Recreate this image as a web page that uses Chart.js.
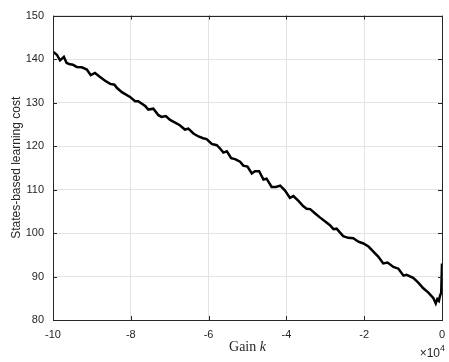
<!DOCTYPE html>
<html>
<head>
<meta charset="utf-8">
<script src="https://cdn.jsdelivr.net/npm/chart.js@4"></script>
<style>
  html, body { margin: 0; padding: 0; background: #fff; }
  canvas { display: block; }
</style>
</head>
<body>
<canvas id="c" width="449" height="362"></canvas>
<script>
// Gain k, in units of 1e4
const gainK = [
  -10.00, -9.90, -9.82, -9.72, -9.65, -9.56, -9.49, -9.39, -9.26, -9.13,
  -9.03, -8.92, -8.79, -8.66, -8.53, -8.42, -8.36, -8.23, -8.02, -7.89,
  -7.81, -7.63, -7.55, -7.42, -7.29, -7.21, -7.10, -6.99, -6.86, -6.74,
  -6.61, -6.52, -6.39, -6.26, -6.14, -6.05, -5.92, -5.79, -5.71, -5.62,
  -5.53, -5.42, -5.32, -5.19, -5.11, -5.00, -4.89, -4.81, -4.70, -4.59,
  -4.51, -4.38, -4.27, -4.16, -4.04, -3.91, -3.82, -3.69, -3.57, -3.48,
  -3.39, -3.26, -3.14, -3.01, -2.88, -2.79, -2.71, -2.54, -2.41, -2.28,
  -2.15, -2.02, -1.89, -1.77, -1.64, -1.51, -1.40, -1.25, -1.12, -0.99,
  -0.91, -0.74, -0.61, -0.48, -0.35, -0.22, -0.16, -0.12, -0.08, -0.05,
  -0.02, 0.00
];

// States-based learning cost for each gain
const learningCost = [
  141.7, 141.0, 139.7, 140.5, 139.1, 138.8, 138.7, 138.2, 138.1, 137.6,
  136.3, 136.8, 135.9, 135.0, 134.3, 134.1, 133.4, 132.4, 131.3, 130.3,
  130.3, 129.2, 128.4, 128.6, 127.1, 126.7, 126.9, 126.0, 125.4, 124.8,
  123.8, 124.0, 122.9, 122.2, 121.8, 121.6, 120.5, 120.2, 119.5, 118.5,
  118.8, 117.2, 117.0, 116.4, 115.5, 115.3, 113.7, 114.2, 114.2, 112.3,
  112.5, 110.6, 110.6, 110.9, 109.8, 108.1, 108.5, 107.4, 106.2, 105.6,
  105.5, 104.5, 103.6, 102.7, 101.8, 100.9, 101.0, 99.3, 98.9, 98.8,
  98.0, 97.6, 96.9, 95.8, 94.6, 93.0, 93.2, 92.2, 91.8, 90.2,
  90.4, 89.7, 88.6, 87.3, 86.3, 85.0, 83.8, 84.8, 84.4, 85.6,
  86.3, 93.0
];

const xTicks = [-10, -8, -6, -4, -2, 0];
const yTicks = [80, 90, 100, 110, 120, 130, 140, 150];

const INK = '#262626';
const GRID = '#e3e3e3';
const SANS = '"Liberation Sans", Arial, Helvetica, sans-serif';
const SERIF = '"Liberation Serif", "Times New Roman", serif';

// Box, inward tick marks and axis labels drawn around the plot area
const framePlugin = {
  id: 'frame',
  afterDraw(chart) {
    const { ctx, chartArea: a, scales } = chart;
    const xs = scales.x, ys = scales.y;
    const len = 4;
    ctx.save();
    ctx.strokeStyle = INK;
    ctx.lineWidth = 1;
    ctx.beginPath();
    xTicks.forEach(v => {
      const px = Math.round(xs.getPixelForValue(v)) + 0.5;
      ctx.moveTo(px, a.bottom); ctx.lineTo(px, a.bottom - len);
      ctx.moveTo(px, a.top); ctx.lineTo(px, a.top + len);
    });
    yTicks.forEach(v => {
      const py = Math.round(ys.getPixelForValue(v)) + 0.5;
      ctx.moveTo(a.left, py); ctx.lineTo(a.left + len, py);
      ctx.moveTo(a.right, py); ctx.lineTo(a.right - len, py);
    });
    ctx.stroke();
    ctx.strokeRect(Math.round(a.left) + 0.5, Math.round(a.top) + 0.5,
                   Math.round(a.right - a.left), Math.round(a.bottom - a.top));

    // x axis label: "Gain k" with italic k
    ctx.fillStyle = INK;
    ctx.textBaseline = 'middle';
    const cx = (a.left + a.right) / 2;
    const ly = 347;
    ctx.font = '14px ' + SERIF;
    const t1 = 'Gain ';
    const w1 = ctx.measureText(t1).width;
    ctx.font = 'italic 14px ' + SERIF;
    const w2 = ctx.measureText('k').width;
    const sx = cx - (w1 + w2) / 2;
    ctx.font = '14px ' + SERIF;
    ctx.textAlign = 'left';
    ctx.fillText(t1, sx, ly);
    ctx.font = 'italic 14px ' + SERIF;
    ctx.fillText('k', sx + w1, ly);

    // exponent marker below the right end of the x axis
    ctx.textAlign = 'right';
    ctx.font = '9px ' + SANS;
    const sup = ctx.measureText('4').width;
    ctx.font = '12px ' + SANS;
    ctx.fillText('\u00d710', a.right + 3 - sup, 354);
    ctx.font = '9px ' + SANS;
    ctx.fillText('4', a.right + 3, 349);

    // y axis label
    ctx.translate(17, (a.top + a.bottom) / 2);
    ctx.rotate(-Math.PI / 2);
    ctx.font = '12px ' + SANS;
    ctx.textAlign = 'center';
    ctx.fillText('States-based learning cost', 0, 0);
    ctx.restore();
  }
};

new Chart(document.getElementById('c'), {
  type: 'line',
  data: {
    datasets: [{
      data: gainK.map((k, i) => ({ x: k, y: learningCost[i] })),
      borderColor: '#000',
      borderWidth: 2.5,
      pointRadius: 0,
      tension: 0,
      fill: false
    }]
  },
  options: {
    responsive: false,
    animation: false,
    layout: { padding: { top: 13, right: 7, left: 0, bottom: 0 } },
    plugins: { legend: { display: false }, tooltip: { enabled: false } },
    scales: {
      x: {
        type: 'linear',
        min: -10, max: 0,
        afterBuildTicks: s => { s.ticks = xTicks.map(v => ({ value: v })); },
        afterFit: s => { s.height = 42; s.paddingLeft = 0; s.paddingRight = 0; },
        grid: { color: GRID, drawTicks: false },
        border: { display: false },
        ticks: { color: INK, padding: 8, font: { family: SANS, size: 11 },
                 callback: v => String(v) }
      },
      y: {
        min: 80, max: 150,
        afterBuildTicks: s => { s.ticks = yTicks.map(v => ({ value: v })); },
        afterFit: s => { s.width = 53; },
        grid: { color: GRID, drawTicks: false },
        border: { display: false },
        ticks: { color: INK, padding: 9, font: { family: SANS, size: 11 } }
      }
    }
  },
  plugins: [framePlugin]
});
</script>
</body>
</html>
